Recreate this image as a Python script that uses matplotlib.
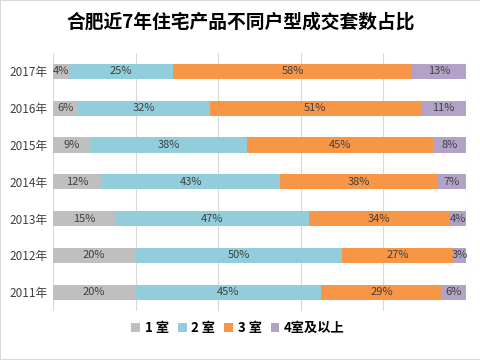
import numpy as np
import matplotlib
matplotlib.use("Agg")
import matplotlib.pyplot as plt

plt.rcParams['font.family'] = ['Noto Sans CJK SC', 'DejaVu Sans']

# data (percent)
years = ["2011年", "2012年", "2013年", "2014年", "2015年", "2016年", "2017年"]
room1 = [20, 20, 15, 12, 9, 6, 4]
room2 = [45, 50, 47, 43, 38, 32, 25]
room3 = [29, 27, 34, 38, 45, 51, 58]
room4 = [6, 3, 4, 7, 8, 11, 13]
series_names = ["1 室", "2 室", "3 室", "4室及以上"]
colors = ["#BFBFBF", "#92CDDC", "#F79646", "#B3A2C7"]

fig = plt.figure(figsize=[4.81, 3.6], dpi=100)
fig.patch.set_edgecolor("#D9D9D9")
fig.patch.set_linewidth(1.2)
ax = fig.add_axes([0.110, 0.137, 0.859, 0.716])

y = np.arange(len(years))
left = np.zeros(len(years))
for vals, name, c in zip([room1, room2, room3, room4], series_names, colors):
    vals = np.array(vals, dtype=float)
    ax.barh(y, vals, left=left, height=0.41, color=c, label=name, zorder=2)
    for yi, l, v in zip(y, left, vals):
        ax.text(l + v / 2, yi, "%d%%" % v, ha="center", va="center",
                fontsize=8, color="#404040", zorder=3)
    left += vals

ax.set_xlim(0, 100)
ax.set_ylim(-0.5, 6.5)
ax.set_xticks([0, 20, 40, 60, 80, 100])
ax.set_xticklabels([])
ax.set_yticks(y)
ax.set_yticklabels(years, fontsize=8.5, color="#404040")
ax.tick_params(axis="both", length=0, pad=4)
ax.grid(axis="x", color="#D9D9D9", linewidth=0.8, zorder=0)
for s in ax.spines.values():
    s.set_visible(False)

fig.text(0.5, 0.938, "合肥近7年住宅产品不同户型成交套数占比", ha="center", va="center",
         fontsize=13.5, fontweight="bold", color="black")

leg = fig.legend(loc="center", bbox_to_anchor=(0.495, 0.088), ncol=4, frameon=False,
                 handlelength=0.65, handleheight=0.65, handletextpad=0.35, columnspacing=0.7,
                 prop={"size": 9.5, "weight": "bold"})

fig.savefig("out.png", dpi=100)
